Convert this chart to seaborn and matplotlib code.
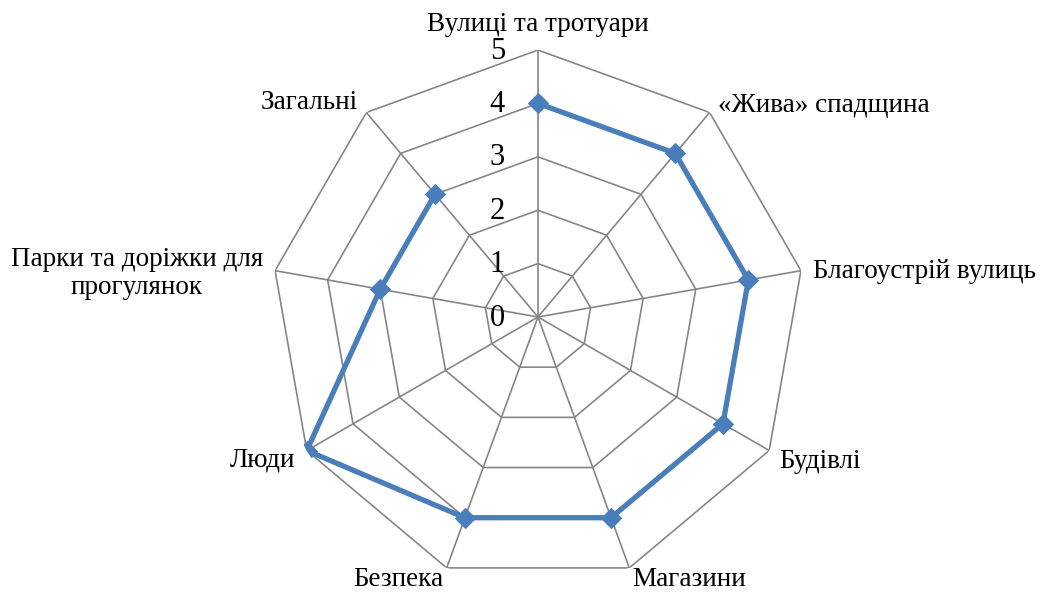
import numpy as np
import pandas as pd
import seaborn as sns
import matplotlib.pyplot as plt

categories = ["Вулиці та тротуари", "«Жива» спадщина", "Благоустрій вулиць",
              "Будівлі", "Магазини", "Безпека", "Люди",
              "Парки та доріжки для\nпрогулянок", "Загальні"]
scores = [4, 4, 4, 4, 4, 4, 5, 3, 3]
ticks = [0, 1, 2, 3, 4, 5]

# label placement: (ha, offset x px, offset y px)
label_pos = [("center", 0, 26), ("left", 8, 7), ("left", 12, -1),
             ("left", 10, -11), ("left", 3, -12), ("right", -3, -12),
             ("right", -12, -9), ("center", -138, -3), ("right", -9, 10)]

sns.set_style("white")
plt.rcParams["font.family"] = ["Liberation Serif", "DejaVu Serif"]

line_color = "#4A7EBB"
grid_color = "#868686"

n = len(categories)
theta = np.arange(n) * 2 * np.pi / n
df = pd.DataFrame({"theta": np.append(theta, theta[0]),
                   "score": scores + [scores[0]]})

fig = plt.figure(figsize=(10.41, 5.92), dpi=100)
ax = fig.add_axes([0.2603, 0.0135, 0.513, 0.902], projection="polar")
ax.set_theta_zero_location("N")
ax.set_theta_direction(-1)
ax.set_ylim(0, 5)
ax.grid(False)
ax.spines["polar"].set_visible(False)
ax.set_xticks([])
ax.set_yticks([])
ax.patch.set_alpha(0)

# polygon grid
for t in ticks[1:]:
    ax.plot(np.append(theta, theta[0]), [t] * (n + 1), color=grid_color, lw=1.2, zorder=1)
for th in theta:
    ax.plot([th, th], [0, ticks[-1]], color=grid_color, lw=1.2, zorder=1)

sns.lineplot(data=df, x="theta", y="score", sort=False, ax=ax, color=line_color,
             lw=3.8, marker="D", markersize=10, markeredgecolor=line_color, zorder=3)
ax.set_xlabel("")
ax.set_ylabel("")

for t in ticks:
    ax.annotate(str(t), xy=(0, t), xytext=(-33, -1), textcoords="offset pixels",
                ha="right", va="center", fontsize=22, color="black")

for th, lab, (ha, dx, dy) in zip(theta, categories, label_pos):
    ax.annotate(lab, xy=(th, ticks[-1]), xytext=(dx, dy), textcoords="offset pixels",
                ha=ha, va="center", multialignment="center", fontsize=19.5,
                linespacing=1.16, color="black", annotation_clip=False)

fig.savefig("out.png", dpi=100)
